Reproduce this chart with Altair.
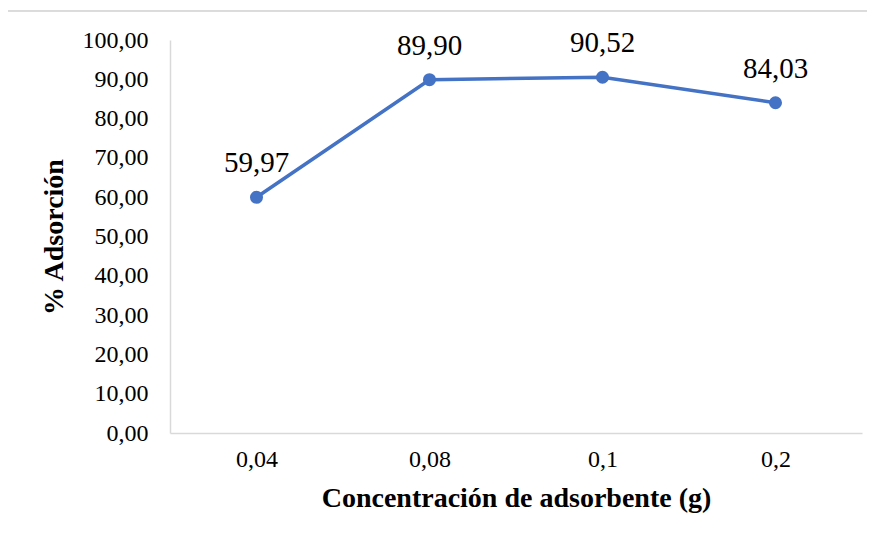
import altair as alt
import pandas as pd

categories = ["0,04", "0,08", "0,1", "0,2"]
values = [59.97, 89.90, 90.52, 84.03]
labels = ["59,97", "89,90", "90,52", "84,03"]

df = pd.DataFrame({"cat": categories, "val": values, "lab": labels})

FONT = "'Liberation Serif', 'Times New Roman', Times, serif"
BLUE = "#4472C4"

x = alt.X("cat:N", sort=categories, title="Concentración de adsorbente (g)",
          scale=alt.Scale(paddingInner=0, paddingOuter=0.5),
          axis=alt.Axis(labelAngle=0, ticks=False, domainColor="#d9d9d9", domainWidth=1.5,
                        labelFont=FONT, labelFontSize=24, labelColor="#000000", labelPadding=14,
                        titleFont=FONT, titleFontSize=28, titleFontWeight="bold",
                        titleColor="#000000", titlePadding=13))
y = alt.Y("val:Q", title="% Adsorción",
          scale=alt.Scale(domain=[0, 100]),
          axis=alt.Axis(values=list(range(0, 101, 10)), labelExpr="replace(format(datum.value, '.2f'), '.', ',')",
                        ticks=False, grid=False, domainColor="#d9d9d9", domainWidth=1.5,
                        labelFont=FONT, labelFontSize=24, labelColor="#000000", labelPadding=22,
                        titleFont=FONT, titleFontSize=28, titleFontWeight="bold",
                        titleColor="#000000", titlePadding=14))

base = alt.Chart(df).encode(x=x, y=y)
line = base.mark_line(color=BLUE, strokeWidth=3.5)
pts = base.mark_circle(color=BLUE, size=170, opacity=1)
txt = base.mark_text(font=FONT, fontSize=29, dy=-34, color="#000000").encode(text="lab:N")

border_top = alt.Chart(df).mark_rule(color="#d9d9d9", strokeWidth=1).encode(
    x=alt.value(-163), x2=alt.value(700), y=alt.value(-29))
border_left = alt.Chart(df).mark_rule(color="#d9d9d9", strokeWidth=1).encode(
    x=alt.value(-163), y=alt.value(-29), y2=alt.value(500))

chart = alt.layer(border_top, border_left, line, pts, txt).properties(
    width=692, height=393,
    padding={"left": 162, "top": 32, "right": 5, "bottom": 100},
    autosize=alt.AutoSizeParams(type="none"),
).configure_view(stroke=None)

chart.save("out.html", embed_options={"renderer": "svg", "actions": False})
